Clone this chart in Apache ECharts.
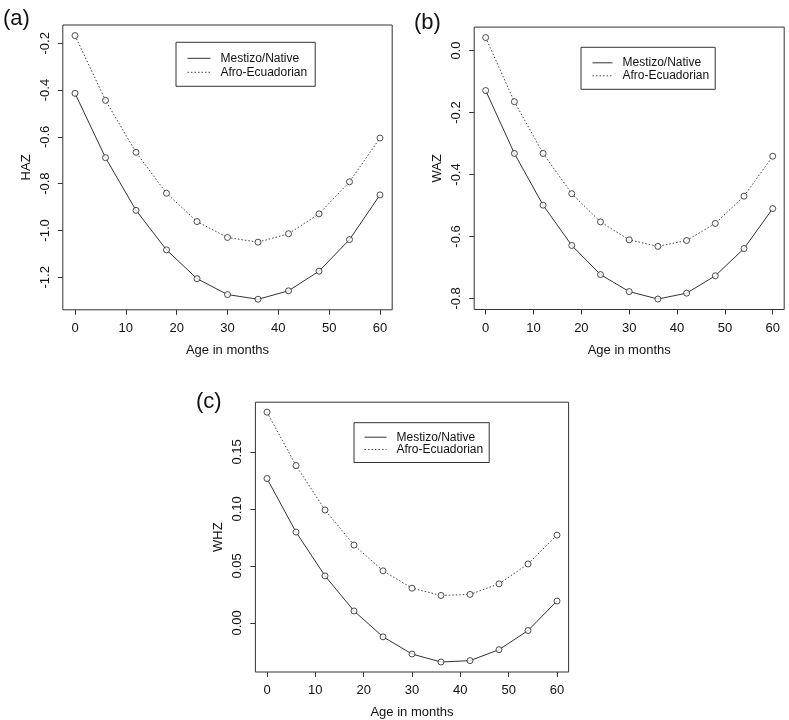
<!DOCTYPE html>
<html>
<head>
<meta charset="utf-8">
<script src="https://cdn.jsdelivr.net/npm/echarts@6/dist/echarts.min.js"></script>
<style>
html,body{margin:0;padding:0;background:#fff;}
#chart{width:789px;height:720px;}
</style>
</head>
<body>
<div id="chart"></div>
<script>
// ---- data ----
const months = [0, 6, 12, 18, 24, 30, 36, 42, 48, 54, 60];
const seriesNames = ['Mestizo/Native', 'Afro-Ecuadorian'];
const xTicks = [0, 10, 20, 30, 40, 50, 60];

const hazMestizo = [-0.414, -0.689, -0.914, -1.083, -1.206, -1.274, -1.294, -1.258, -1.174, -1.039, -0.848];
const hazAfro    = [-0.167, -0.444, -0.666, -0.841, -0.962, -1.030, -1.050, -1.014, -0.929, -0.792, -0.605];
const hazTicks   = [-1.2, -1.0, -0.8, -0.6, -0.4, -0.2];

const wazMestizo = [-0.129, -0.332, -0.499, -0.629, -0.723, -0.778, -0.802, -0.783, -0.727, -0.639, -0.510];
const wazAfro    = [0.042, -0.165, -0.332, -0.462, -0.553, -0.611, -0.632, -0.613, -0.558, -0.470, -0.341];
const wazTicks   = [-0.8, -0.6, -0.4, -0.2, 0.0];

const whzMestizo = [0.1267, 0.0797, 0.0413, 0.0105, -0.0122, -0.0273, -0.0343, -0.0331, -0.0235, -0.0067, 0.0192];
const whzAfro    = [0.1849, 0.1381, 0.0991, 0.0683, 0.0457, 0.0305, 0.0241, 0.0250, 0.0343, 0.0517, 0.0770];
const whzTicks   = [0.00, 0.05, 0.10, 0.15];

// ---- helpers ----
const FONT = 'Liberation Sans';
const AXIS_COLOR = '#333';
const TEXT_COLOR = '#111';

function ext(arrs) {
  const all = [].concat(...arrs);
  const lo = Math.min(...all), hi = Math.max(...all);
  const pad = (hi - lo) * 0.04;
  return [lo - pad, hi + pad];
}
const xExt = ext([months]);

const panels = [
  {name: 'HAZ', m: hazMestizo, a: hazAfro, ticks: hazTicks, dec: 1,
   grid: {left: 62.8, top: 25, width: 329.4, height: 284.8}},
  {name: 'WAZ', m: wazMestizo, a: wazAfro, ticks: wazTicks, dec: 1,
   grid: {left: 474.2, top: 27.1, width: 310, height: 282.4}},
  {name: 'WHZ', m: whzMestizo, a: whzAfro, ticks: whzTicks, dec: 2,
   grid: {left: 255.4, top: 402.2, width: 313.2, height: 271.5}}
];

const grids = [], xAxes = [], yAxes = [], series = [];
panels.forEach((p, i) => {
  grids.push(Object.assign({show: true, borderColor: AXIS_COLOR, borderWidth: 1, backgroundColor: 'transparent'}, p.grid));
  const yE = ext([p.m, p.a]);
  xAxes.push({
    type: 'value', gridIndex: i, min: xExt[0], max: xExt[1],
    name: 'Age in months', nameLocation: 'middle', nameGap: 34,
    nameTextStyle: {fontFamily: FONT, fontSize: 13, color: TEXT_COLOR},
    axisLine: {show: false, onZero: false},
    axisTick: {show: true, inside: false, length: 5, lineStyle: {color: AXIS_COLOR}, customValues: xTicks},
    axisLabel: {fontFamily: FONT, fontSize: 13, color: TEXT_COLOR, margin: 12, customValues: xTicks,
      formatter: v => String(v)},
    splitLine: {show: false}
  });
  yAxes.push({
    type: 'value', gridIndex: i, min: yE[0], max: yE[1],
    name: p.name, nameLocation: 'middle', nameGap: 30,
    nameTextStyle: {fontFamily: FONT, fontSize: 13, color: TEXT_COLOR},
    axisLine: {show: false, onZero: false},
    axisTick: {show: true, inside: false, length: 5, lineStyle: {color: AXIS_COLOR}, customValues: p.ticks},
    axisLabel: {fontFamily: FONT, fontSize: 13, color: TEXT_COLOR, margin: 11, rotate: 90,
      customValues: p.ticks, formatter: v => Number(v).toFixed(p.dec)},
    splitLine: {show: false}
  });
  const pairs = [[seriesNames[0], p.m, 'solid', '#333'], [seriesNames[1], p.a, [1.5, 2], '#444']];
  pairs.forEach(([nm, vals, type, col]) => {
    const data = months.map((mo, k) => [mo, vals[k]]);
    series.push({
      name: nm, type: 'line', xAxisIndex: i, yAxisIndex: i, data: data,
      symbol: 'none', silent: true, animation: false,
      lineStyle: {color: col, width: 1, type: type}, itemStyle: {color: col}
    });
    series.push({
      name: nm + ' points', type: 'scatter', xAxisIndex: i, yAxisIndex: i, data: data,
      symbol: 'circle', symbolSize: 6, silent: true, animation: false, z: 3,
      itemStyle: {color: '#fff', borderColor: '#222', borderWidth: 1}
    });
  });
});

const legendBase = {
  data: seriesNames, orient: 'vertical', selectedMode: false,
  borderColor: AXIS_COLOR, borderWidth: 1, borderRadius: 0,
  itemHeight: 13, itemGap: 1,
  itemStyle: {opacity: 0, borderWidth: 0},
  lineStyle: {width: 1},
  textStyle: {fontFamily: FONT, fontSize: 12, color: TEXT_COLOR, padding: [0, 0, 0, 5]}
};
const legends = [
  Object.assign({}, legendBase, {left: 176, top: 42.3, itemWidth: 23, padding: [10, 8, 8, 11], itemGap: 2}),
  Object.assign({}, legendBase, {left: 581, top: 47.3, itemWidth: 20, padding: [9.5, 6, 7.5, 11], itemGap: 1}),
  Object.assign({}, legendBase, {left: 354, top: 422.7, itemWidth: 22, padding: [8.5, 6, 7, 10], itemGap: 0.3})
];

const labels = [
  {t: '(a)', x: 3, y: 20},
  {t: '(b)', x: 414, y: 24},
  {t: '(c)', x: 196, y: 403}
].map(o => ({
  type: 'text', left: o.x, top: o.y - 12, silent: true,
  style: {text: o.t, font: '22px ' + FONT, fill: TEXT_COLOR}
}));

const chart = echarts.init(document.getElementById('chart'), null, {renderer: 'canvas'});
chart.setOption({
  backgroundColor: '#fff',
  animation: false,
  grid: grids, xAxis: xAxes, yAxis: yAxes, series: series,
  legend: legends,
  graphic: labels
});
</script>
</body>
</html>
